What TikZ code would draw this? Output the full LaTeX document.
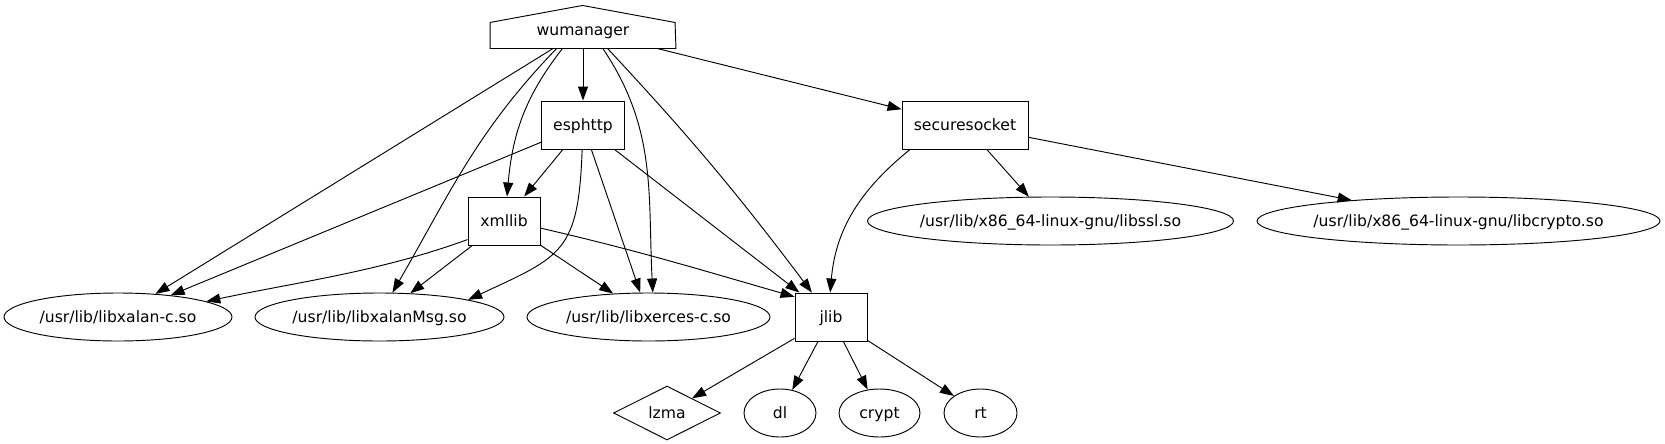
\documentclass[tikz,border=0pt]{standalone}
\usepackage{fontspec}
\setmainfont{DejaVu Sans}
\usetikzlibrary{arrows.meta,shapes.geometric}

\tikzset{
  lib/.style={draw, line width=0.7pt, inner sep=0pt, text height=10pt, text depth=2.5pt, minimum height=36pt},
  box/.style={lib, rectangle},
  so/.style={lib, ellipse, inner xsep=-8pt},
  dep/.style={draw, line width=0.7pt, -{Triangle[length=10.5pt,width=7.5pt]}},
}

\begin{document}
\begin{tikzpicture}[x=0.75pt, y=0.75pt, font=\fontsize{11.7}{14}\selectfont]
  \useasboundingbox (0,0) rectangle (1665,-443);

  % top node (house)
  \node[lib, draw=none, minimum width=138.75pt, minimum height=27pt] (wumanager) at (583,-30) {wumanager};
  \draw[line width=0.7pt] (wumanager.south west) -- ++(0,26) -- ++(92.5,17) -- ++(92.5,-17) -- (wumanager.south east) -- cycle;

  % libraries
  \node[box, minimum width=62.25pt] (esphttp) at (583,-125) {esphttp};
  \node[box, minimum width=94.5pt] (securesocket) at (965,-125) {securesocket};
  \node[box, minimum width=54pt] (xmllib) at (504,-221) {xmllib};
  \node[so, minimum width=274.5pt] (libssl) at (1050.5,-221) {/usr/lib/x86\_64-linux-gnu/libssl.so};
  \node[so, minimum width=302.25pt] (libcrypto) at (1458.5,-221) {/usr/lib/x86\_64-linux-gnu/libcrypto.so};
  \node[so, minimum width=171pt] (libxalanc) at (118,-317) {/usr/lib/libxalan-c.so};
  \node[so, minimum width=186.75pt] (libxalanmsg) at (379.5,-317) {/usr/lib/libxalanMsg.so};
  \node[so, minimum width=182.25pt] (libxerces) at (648.5,-317) {/usr/lib/libxerces-c.so};
  \node[box, minimum width=54pt] (jlib) at (831,-317) {jlib};
  \node[lib, diamond, minimum width=80.25pt] (lzma) at (667,-413) {lzma};
  \node[so, minimum width=54pt] (dl) at (780,-413) {dl};
  \node[so, minimum width=60.75pt] (crypt) at (879.5,-413) {crypt};
  \node[so, minimum width=54.75pt] (rt) at (980.5,-413) {rt};

  % straight edges
  \foreach \a/\b in {wumanager/esphttp, wumanager/securesocket, wumanager/libxalanc,
                     esphttp/xmllib, esphttp/libxalanc, esphttp/libxerces, esphttp/jlib,
                     xmllib/libxalanmsg, xmllib/libxerces,
                     securesocket/libssl, securesocket/libcrypto,
                     jlib/lzma, jlib/dl, jlib/crypt, jlib/rt}
    \draw[dep] (\a) -- (\b);

  % bent edges
  \draw[dep] (wumanager.215) to[out=226,in=60] (libxalanmsg.62);
  \draw[dep] (wumanager.222) to[out=232,in=85] (xmllib.83);
  \draw[dep] (wumanager.317) to[out=304,in=93] (libxerces.80);
  \draw[dep] (wumanager.323) to[out=313,in=127] (jlib.128);
  \draw[dep] (esphttp.268) to[out=268,in=25,looseness=1.4] (libxalanmsg.11);
  \draw[dep] (xmllib.207) to[out=200,in=12,looseness=0.9] (libxalanc.10);
  \draw[dep] (xmllib.349) to[out=347,in=164] (jlib.151);
  \draw[dep] (securesocket.204) to[out=219,in=85] (jlib.92);
\end{tikzpicture}
\end{document}
